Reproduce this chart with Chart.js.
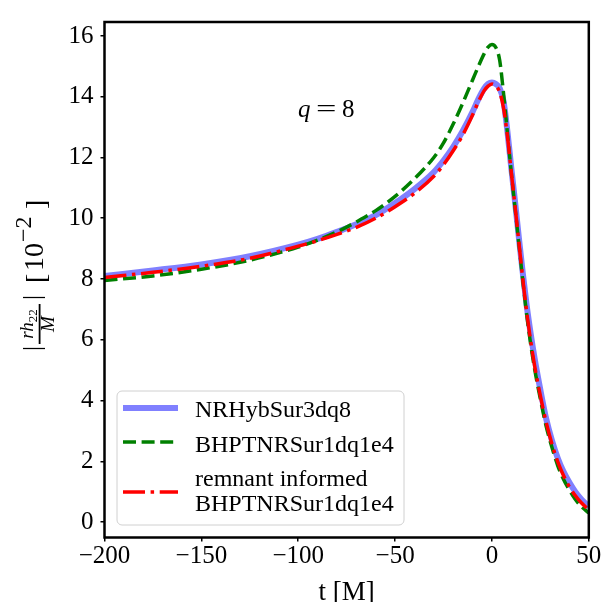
<!DOCTYPE html>
<html>
<head>
<meta charset="utf-8">
<script src="https://cdn.jsdelivr.net/npm/chart.js@4.4.1/dist/chart.umd.min.js"></script>
<style>
  html, body { margin: 0; padding: 0; background: #fff; }
  canvas { display: block; }
</style>
</head>
<body>
<canvas id="waveChart" width="612" height="602"></canvas>
<script>
// time samples [M]
const times = [-200, -175, -150, -125, -100, -90, -80, -70, -60, -50, -40, -30, -25, -20, -15, -10, -7, -4, -2, 0,
               2, 4, 6, 8, 10, 12, 14, 16, 18, 20, 22, 25, 28, 31, 34, 37, 40, 43, 46, 50];

// |r h22 / M| in units of 1e-2
const nrHybVals = [8.10, 8.28, 8.48, 8.75, 9.13, 9.32, 9.55, 9.80, 10.10, 10.50, 10.96, 11.52, 11.90, 12.35, 12.88, 13.50, 13.92, 14.27, 14.42, 14.47,
                   14.42, 14.28, 13.85, 12.85, 11.65, 10.50, 9.30, 8.15, 7.10, 6.20, 5.40, 4.35, 3.40, 2.68, 2.10, 1.65, 1.30, 1.00, 0.76, 0.50];
const bhptVals = [7.95, 8.10, 8.32, 8.62, 9.05, 9.28, 9.55, 9.88, 10.25, 10.72, 11.30, 12.00, 12.48, 13.10, 13.80, 14.55, 15.00, 15.42, 15.63, 15.72,
                  15.62, 15.20, 14.10, 12.80, 11.50, 10.30, 9.10, 7.90, 6.80, 5.85, 5.05, 4.05, 3.15, 2.45, 1.85, 1.40, 1.05, 0.75, 0.52, 0.30];
const remnantVals = [8.05, 8.22, 8.42, 8.68, 9.08, 9.26, 9.47, 9.70, 10.00, 10.38, 10.82, 11.38, 11.76, 12.22, 12.75, 13.40, 13.83, 14.20, 14.35, 14.42,
                     14.35, 14.15, 13.62, 12.70, 11.50, 10.35, 9.15, 7.95, 6.88, 5.95, 5.15, 4.15, 3.28, 2.56, 1.98, 1.52, 1.16, 0.87, 0.64, 0.40];

const seriesLabels = ['NRHybSur3dq8', 'BHPTNRSur1dq1e4', ['remnant informed', 'BHPTNRSur1dq1e4']];
const xTicks = [-200, -150, -100, -50, 0, 50];
const yTicks = [0, 2, 4, 6, 8, 10, 12, 14, 16];

const SERIF = "'Liberation Serif', 'Times New Roman', serif";

function toPoints(vals) {
    return times.map((t, i) => ({ x: t, y: vals[i] }));
}

function fmtTick(v) {
    return v < 0 ? '\u2212' + Math.abs(v) : String(v);
}

// frame, axis titles, annotation and legend inside the axes
const decorPlugin = {
    id: 'decor',
    afterDraw(chart) {
        const ctx = chart.ctx;
        const area = chart.chartArea;
        ctx.save();

        // axes frame
        ctx.strokeStyle = '#000';
        ctx.lineWidth = 2.5;
        ctx.strokeRect(area.left, area.top, area.right - area.left, area.bottom - area.top);

        // q = 8
        ctx.fillStyle = '#000';
        ctx.textBaseline = 'alphabetic';
        ctx.font = 'italic 25px ' + SERIF;
        ctx.fillText('q', 298, 117);
        ctx.font = '25px ' + SERIF;
        ctx.save();
        ctx.translate(316, 117);
        ctx.scale(1.45, 1);
        ctx.fillText('=', 0, 0);
        ctx.restore();
        ctx.fillText('8', 342, 117);

        // x title
        ctx.font = '27px ' + SERIF;
        ctx.textAlign = 'center';
        ctx.fillText('t [M]', (area.left + area.right) / 2, 600);
        ctx.textAlign = 'left';

        // y title, rotated
        ctx.save();
        ctx.translate(43, 273);
        ctx.rotate(-Math.PI / 2);
        ctx.font = '25px ' + SERIF;
        ctx.fillText('|', -78, -3);
        ctx.fillText('|', -27, -3);
        ctx.fillRect(-71, -4.3, 40, 1.8);
        ctx.font = 'italic 19px ' + SERIF;
        const rhW = ctx.measureText('rh').width;
        ctx.font = '13px ' + SERIF;
        const subW = ctx.measureText('22').width;
        const numX = -51 - (rhW + subW) / 2;
        ctx.font = 'italic 19px ' + SERIF;
        ctx.fillText('rh', numX, -10);
        ctx.font = '13px ' + SERIF;
        ctx.fillText('22', numX + rhW, -6);
        ctx.font = 'italic 19px ' + SERIF;
        ctx.textAlign = 'center';
        ctx.fillText('M', -51, 11);
        ctx.textAlign = 'left';
        ctx.font = '28px ' + SERIF;
        ctx.fillText('[', -10, 2);
        ctx.fillText('10', 2, 0);
        ctx.fillText(']', 64, 2);
        ctx.font = '24px ' + SERIF;
        ctx.fillText('\u22122', 31, -12);
        ctx.restore();

        // legend
        const lx = 117, ly = 391, lw = 287, lh = 134;
        ctx.beginPath();
        ctx.roundRect(lx, ly, lw, lh, 5);
        ctx.fillStyle = 'rgba(255,255,255,0.85)';
        ctx.fill();
        ctx.strokeStyle = '#d0d0d0';
        ctx.lineWidth = 1;
        ctx.stroke();

        const sampleY = [408, 442, 492];
        const rowText = [[417], [452], [486, 511]];
        chart.data.datasets.forEach((ds, i) => {
            ctx.save();
            ctx.strokeStyle = ds.borderColor;
            ctx.lineWidth = ds.borderWidth;
            ctx.setLineDash(ds.borderDash || []);
            ctx.beginPath();
            ctx.moveTo(123, sampleY[i]);
            ctx.lineTo(178, sampleY[i]);
            ctx.stroke();
            ctx.restore();
            const lines = Array.isArray(ds.label) ? ds.label : [ds.label];
            ctx.fillStyle = '#000';
            ctx.font = '24px ' + SERIF;
            lines.forEach((txt, j) => ctx.fillText(txt, 195, rowText[i][j]));
        });

        ctx.restore();
    }
};

new Chart(document.getElementById('waveChart'), {
    type: 'line',
    data: {
        datasets: [
            {
                label: seriesLabels[0],
                data: toPoints(nrHybVals),
                borderColor: '#8080ff',
                borderWidth: 6,
                order: 3
            },
            {
                label: seriesLabels[1],
                data: toPoints(bhptVals),
                borderColor: '#008000',
                borderWidth: 3.5,
                borderDash: [13, 5.6],
                order: 2
            },
            {
                label: seriesLabels[2],
                data: toPoints(remnantVals),
                borderColor: '#ff0000',
                borderWidth: 3.5,
                borderDash: [22, 5.6, 3.5, 5.6],
                order: 1
            }
        ]
    },
    options: {
        responsive: false,
        animation: false,
        devicePixelRatio: 1,
        layout: { padding: { top: 9.7, right: 23.2, left: 0, bottom: 0 } },
        elements: {
            point: { radius: 0 },
            line: { cubicInterpolationMode: 'monotone', fill: false }
        },
        plugins: {
            legend: { display: false },
            tooltip: { enabled: false }
        },
        scales: {
            x: {
                type: 'linear',
                min: -200,
                max: 50,
                afterBuildTicks: s => { s.ticks = xTicks.map(v => ({ value: v })); },
                afterFit: s => { s.height = 64.5; },
                border: { display: false },
                grid: { drawOnChartArea: false, drawTicks: true, tickLength: 4, color: '#000', lineWidth: 1.5 },
                ticks: {
                    color: '#000',
                    font: { family: SERIF, size: 25 },
                    padding: 0,
                    maxRotation: 0,
                    autoSkip: false,
                    callback: v => fmtTick(v)
                }
            },
            y: {
                type: 'linear',
                min: -0.51,
                max: 16.46,
                afterBuildTicks: s => { s.ticks = yTicks.map(v => ({ value: v })); },
                afterFit: s => { s.width = 104.5; },
                border: { display: false },
                grid: { drawOnChartArea: false, drawTicks: true, tickLength: 4, color: '#000', lineWidth: 1.5 },
                ticks: {
                    color: '#000',
                    font: { family: SERIF, size: 25 },
                    padding: 7,
                    autoSkip: false,
                    callback: v => fmtTick(v)
                }
            }
        }
    },
    plugins: [decorPlugin]
});
</script>
</body>
</html>
